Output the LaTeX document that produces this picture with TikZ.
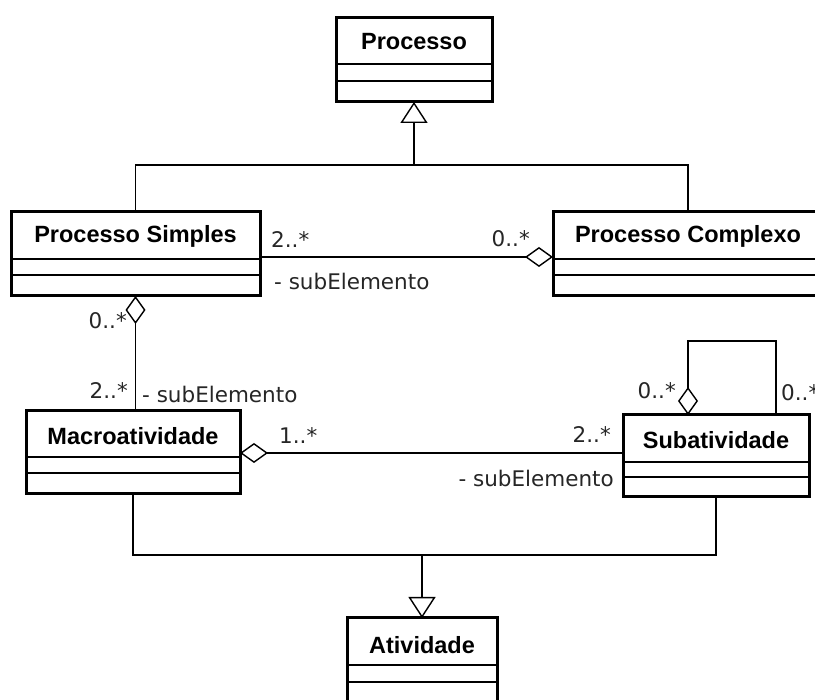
\documentclass[tikz,border=0pt]{standalone}
\usepackage{fontspec}
\setmainfont{DejaVu Sans}
\newfontfamily\titlefont{Liberation Sans}
\usetikzlibrary{arrows.meta}

% name, left, top, right, bottom, first divider, second divider, title y, title
\newcommand{\umlclass}[9]{%
  \node[classbox, minimum width={(#4-#2)*1pt}, minimum height={(#5-#3)*1pt}]
    (#1) at ({(#2+#4)/2},{(#3+#5)/2}) {};
  \draw[divider] (#1.west |- 0,#6) -- (#1.east |- 0,#6);
  \draw[divider] (#1.west |- 0,#7) -- (#1.east |- 0,#7);
  \node[classtitle] (#1-t) at ({(#2+#4)/2},#8) {#9};
}

\tikzset{
  classbox/.style={draw, line width=3pt, fill=white, inner sep=0pt, outer sep=0pt},
  divider/.style={line width=1.4pt},
  classtitle/.style={font=\titlefont\bfseries\fontsize{23.5}{26}\selectfont, inner sep=0pt},
  mult/.style={font=\fontsize{21.5}{24}\selectfont, inner sep=0pt, text=black!85},
  assoc/.style={line width=1.4pt},
  agg/.style={assoc, {Diamond[open, length=28pt, width=20pt, line width=1.4pt]}-},
  gen/.style={assoc, -{Triangle[open, length=21pt, width=27pt, line width=1.4pt]}},
}

\begin{document}
\begin{tikzpicture}[x=1pt, y=-1pt]
  \useasboundingbox (0,0) rectangle (815,700);
  \clip (0,0) rectangle (815,700);
  \fill[white] (0,0) rectangle (815,700);

  % classes
  \umlclass{p}{336}{18}{492}{102}{64}{81}{42}{Processo}
  \umlclass{ps}{11}{212}{260}{296}{259}{275}{236}{Processo Simples}
  \umlclass{pc}{553}{212}{823}{296}{259}{275}{236}{Processo Complexo}
  \umlclass{ma}{26}{411}{240}{494}{457}{473}{436}{Macroatividade}
  \umlclass{sa}{623}{415}{809}{497}{462}{477}{440}{Subatividade}
  \umlclass{at}{347}{618}{497}{706}{665}{682}{645}{Atividade}

  % generalisation: Processo
  \coordinate (j1) at (p.south |- 0,165);
  \draw[assoc] (ps.north) |- (j1) -| (pc.north);
  \draw[gen] (j1) -- (p.south);

  % generalisation: Atividade
  \coordinate (j2) at (at.north |- 0,555);
  \draw[assoc] (ma.south) |- (j2) -| (sa.south);
  \draw[gen] (j2) -- (at.north);

  % aggregations
  \draw[agg] (pc.west |- 0,257) -- (ps.east |- 0,257);
  \draw[agg] (ps.south) -- (ps.south |- ma.north);
  \draw[agg] (ma.east |- 0,453) -- (sa.west |- 0,453);
  \draw[agg] (688,0 |- sa.north) -- (688,341) -| (776,0 |- sa.north);

  % multiplicities and roles
  \node[mult, anchor=west] (m1) at (271,240) {2..*};
  \node[mult, anchor=east] (m2) at (530,239) {0..*};
  \node[mult, anchor=west] (r1) at (274,281) {- subElemento};
  \node[mult, anchor=east] (m3) at (127,321) {0..*};
  \node[mult, anchor=east] (m4) at (128,391) {2..*};
  \node[mult, anchor=west] (r2) at (142,394) {- subElemento};
  \node[mult, anchor=west] (m5) at (279,436) {1..*};
  \node[mult, anchor=east] (m6) at (611,435) {2..*};
  \node[mult, anchor=east] (r3) at (614,478) {- subElemento};
  \node[mult, anchor=east] (m7) at (676,391) {0..*};
  \node[mult, anchor=west] (m8) at (781,393) {0..*};
\end{tikzpicture}
\end{document}
